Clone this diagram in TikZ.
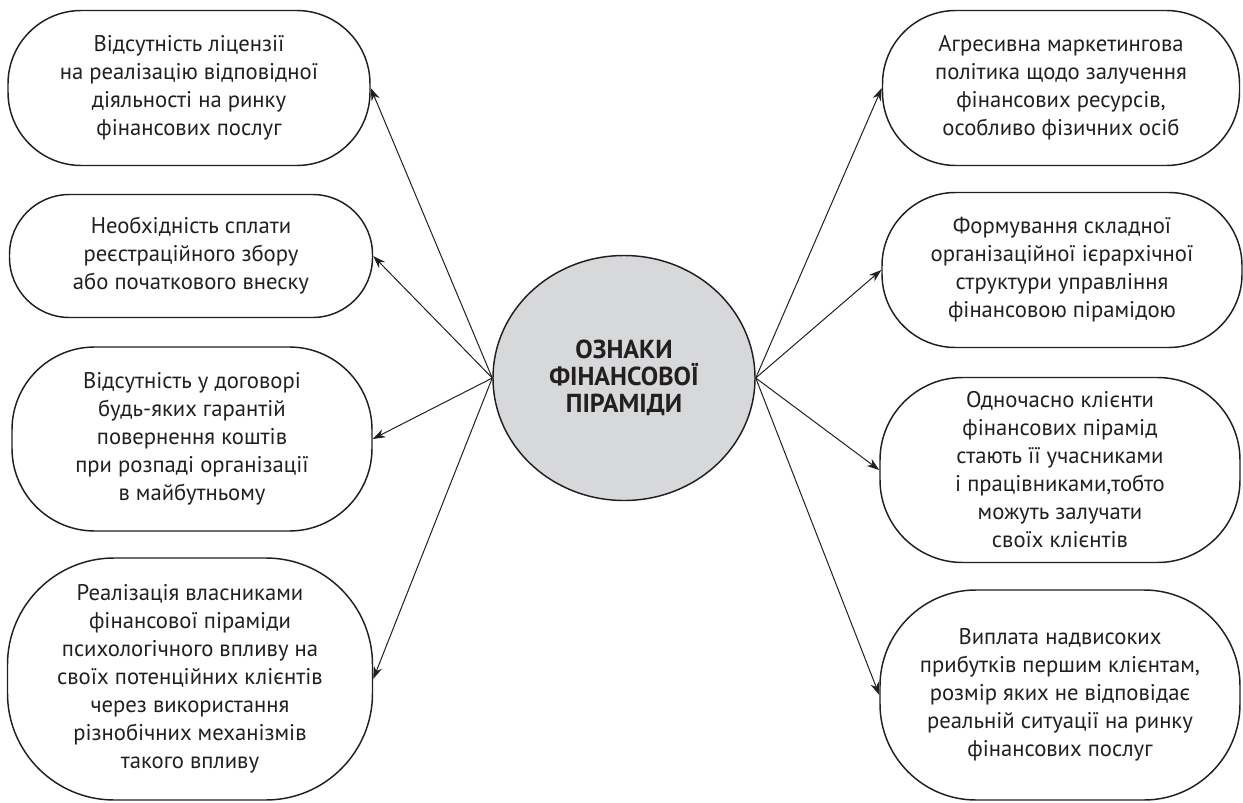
\documentclass[tikz,border=0pt]{standalone}
\usepackage{fontspec}
\setmainfont{PT Sans}
\usetikzlibrary{arrows.meta,shapes.geometric}
\definecolor{txt}{HTML}{231F20}
\definecolor{cfill}{HTML}{D7D8DA}
\begin{document}
\begin{tikzpicture}[x=0.75pt,y=-0.75pt,
  box/.style={draw=txt, line width=1.1pt, align=center, text=txt, inner sep=0pt,
    font=\fontsize{17}{21}\selectfont},
  hub/.style={ellipse, draw=txt, fill=cfill, line width=1.1pt, align=center, text=txt,
    inner sep=0pt, font=\bfseries\fontsize{19.5}{20.5}\selectfont,
    minimum width=196.5pt, minimum height=183.75pt},
  arr/.style={draw=txt, line width=0.75pt, -{Stealth[length=9.5pt,width=6.5pt]}}]
\useasboundingbox (0,0) rectangle (1243,803);

\node[hub] (C) at (624,378) {ОЗНАКИ\\ФІНАНСОВОЇ\\ПІРАМІДИ};

\node[box, minimum width=271.5pt, minimum height=116.25pt, rounded corners=55pt] (L1) at (189,88)
  {Відсутність ліцензії\\на реалізацію відповідної\\діяльності на ринку\\фінансових послуг};
\node[box, minimum width=272.25pt, minimum height=92.25pt, rounded corners=45pt] (L2) at (191,256)
  {Необхідність сплати\\реєстраційного збору\\або початкового внеску};
\node[box, minimum width=270pt, minimum height=138pt, rounded corners=62pt] (L3) at (192,439)
  {Відсутність у договорі\\будь-яких гарантій\\повернення коштів\\при розпаді організації\\в майбутньому};
\node[box, minimum width=273.75pt, minimum height=181.5pt, rounded corners=80pt] (L4) at (190,679)
  {Реалізація власниками\\фінансової піраміди\\психологічного впливу на\\своїх потенційних клієнтів\\через використання\\різнобічних механізмів\\такого впливу};

\node[box, minimum width=267.75pt, minimum height=116.25pt, rounded corners=55pt] (R1) at (1061,88)
  {Агресивна маркетингова\\політика щодо залучення\\фінансових ресурсів,\\особливо фізичних осіб};
\node[box, minimum width=270pt, minimum height=116.25pt, rounded corners=55pt] (R2) at (1062,270)
  {Формування складної\\організаційної ієрархічної\\структури управління\\фінансовою пірамідою};
\node[box, minimum width=270pt, minimum height=138.75pt, rounded corners=62pt] (R3) at (1060,470)
  {Одночасно клієнти\\фінансових пірамід\\стають її учасниками\\і працівниками,тобто\\можуть залучати\\своїх клієнтів};
\node[box, minimum width=270pt, minimum height=157.5pt, rounded corners=72pt] (R4) at (1060,695)
  {Виплата надвисоких\\прибутків першим клієнтам,\\розмір яких не відповідає\\реальній ситуації на ринку\\фінансових послуг};

\draw[arr] (C.west) -- (L1.east);
\draw[arr] (C.west) -- (L2.east);
\draw[arr] (C.west) -- (L3.east);
\draw[arr] (C.west) -- (L4.east);
\draw[arr] (C.east) -- (R1.west);
\draw[arr] (C.east) -- (R2.west);
\draw[arr] (C.east) -- (R3.west);
\draw[arr] (C.east) -- (R4.west);
\end{tikzpicture}
\end{document}
